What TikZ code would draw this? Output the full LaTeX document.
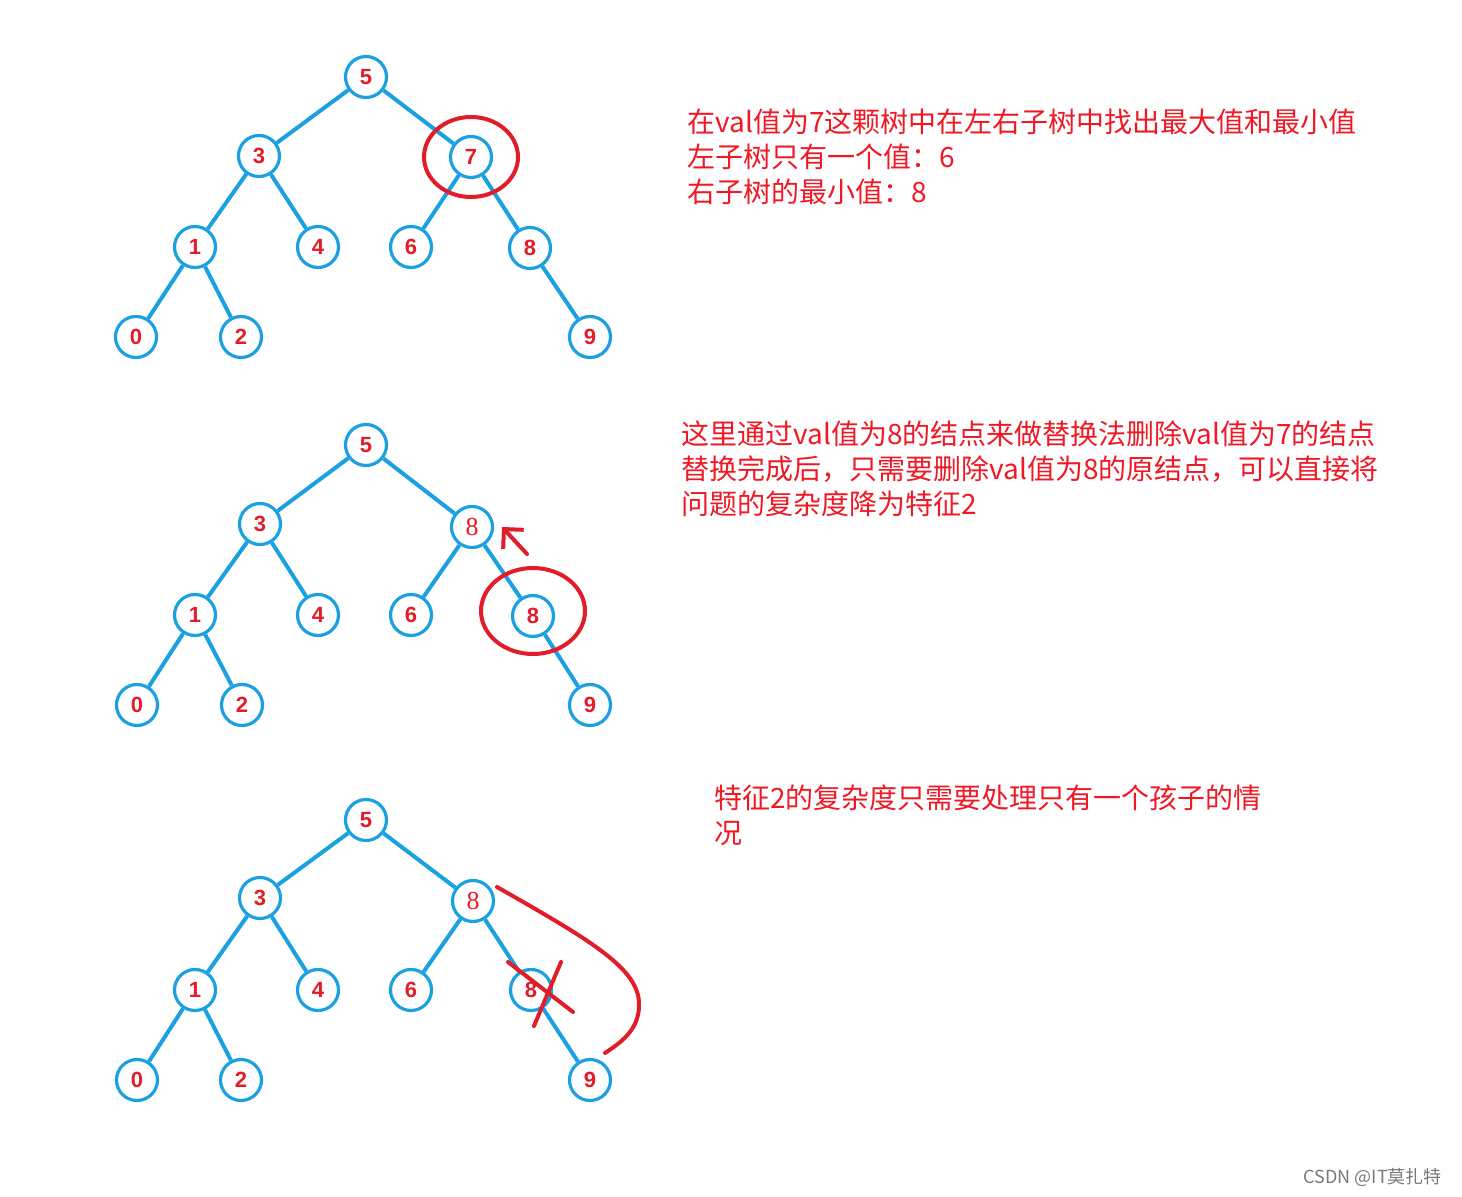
\documentclass[tikz,border=0pt]{standalone}
\usepackage{fontspec}
\usetikzlibrary{arrows.meta}
\newfontfamily\cjk{Noto Sans CJK SC}
\newfontfamily\numfont{Liberation Sans}
\newfontfamily\serifnum{Liberation Serif}
\definecolor{bcol}{RGB}{27,161,226}
\definecolor{rcol}{RGB}{226,28,40}
\definecolor{tcol}{RGB}{240,24,36}
\definecolor{gcol}{RGB}{120,120,120}
\tikzset{vertex/.style={circle,draw=bcol,line width=1.6pt,fill=white,minimum size=20.5pt,inner sep=0pt,text=rcol,font=\numfont\bfseries\fontsize{11}{11}\selectfont}}
\tikzset{edge/.style={bcol,line width=2pt}}
\tikzset{plain/.style={font=\serifnum\mdseries\fontsize{13}{13}\selectfont,text=tcol}}
\tikzset{redline/.style={rcol,line width=2pt,line cap=round}}
\tikzset{note/.style={anchor=west,align=left,inner sep=0pt,text=tcol,font=\cjk\fontsize{14}{17.5}\selectfont}}
\begin{document}
\begin{tikzpicture}[x=0.5pt,y=-0.5pt]
\useasboundingbox (0,0) rectangle (1462,1197);

% first tree
\node [vertex] (a5) at (366,77) {5};
\node [vertex] (a3) at (259,156) {3};
\node [vertex] (a7) at (471,157) {7};
\node [vertex] (a1) at (195,247) {1};
\node [vertex] (a4) at (318,247) {4};
\node [vertex] (a6) at (411,247) {6};
\node [vertex] (a8) at (530,248) {8};
\node [vertex] (a0) at (136,337) {0};
\node [vertex] (a2) at (241,337) {2};
\node [vertex] (a9) at (590,337) {9};

\draw [edge] (a5) -- (a3);
\draw [edge] (a5) -- (a7);
\draw [edge] (a3) -- (a1);
\draw [edge] (a3) -- (a4);
\draw [edge] (a7) -- (a6);
\draw [edge] (a7) -- (a8);
\draw [edge] (a1) -- (a0);
\draw [edge] (a1) -- (a2);
\draw [edge] (a8) -- (a9);

\draw [redline] (a7) ellipse [x radius=23.5pt, y radius=20pt];

% second tree
\node [vertex] (b5) at (366,445) {5};
\node [vertex] (b3) at (260,524) {3};
\node [vertex,plain] (b7) at (472,527) {8};
\node [vertex] (b1) at (195,615) {1};
\node [vertex] (b4) at (318,615) {4};
\node [vertex] (b6) at (411,615) {6};
\node [vertex] (b8) at (533,616) {8};
\node [vertex] (b0) at (137,705) {0};
\node [vertex] (b2) at (242,705) {2};
\node [vertex] (b9) at (590,705) {9};

\draw [edge] (b5) -- (b3);
\draw [edge] (b5) -- (b7);
\draw [edge] (b3) -- (b1);
\draw [edge] (b3) -- (b4);
\draw [edge] (b7) -- (b6);
\draw [edge] (b7) -- (b8);
\draw [edge] (b1) -- (b0);
\draw [edge] (b1) -- (b2);
\draw [edge] (b8) -- (b9);

\draw [redline] (533,611) ellipse [x radius=26pt, y radius=21.5pt];
\coordinate (up1) at (527,554);
\coordinate (up2) at (502,527);
\draw [redline,-{Straight Barb[length=7pt,width=14pt]}] (up1) -- (up2);

% third tree
\node [vertex] (c5) at (366,820) {5};
\node [vertex] (c3) at (260,898) {3};
\node [vertex,plain] (c7) at (473,901) {8};
\node [vertex] (c1) at (195,990) {1};
\node [vertex] (c4) at (318,990) {4};
\node [vertex] (c6) at (411,990) {6};
\node [vertex] (c8) at (531,990) {8};
\node [vertex] (c0) at (137,1080) {0};
\node [vertex] (c2) at (241,1080) {2};
\node [vertex] (c9) at (590,1080) {9};

\draw [edge] (c5) -- (c3);
\draw [edge] (c5) -- (c7);
\draw [edge] (c3) -- (c1);
\draw [edge] (c3) -- (c4);
\draw [edge] (c7) -- (c6);
\draw [edge] (c7) -- (c8);
\draw [edge] (c1) -- (c0);
\draw [edge] (c1) -- (c2);
\draw [edge] (c8) -- (c9);

\coordinate (x1) at (508,962);
\coordinate (x2) at (573,1012);
\coordinate (x3) at (561,962);
\coordinate (x4) at (534,1026);
\draw [redline] (x1) -- (x2);
\draw [redline] (x3) -- (x4);

\coordinate (jump1) at (497,887);
\coordinate (jump2) at (605,1053);
\draw [redline] (jump1) .. controls (590,940) and (638,968) .. (639,1003)
  .. controls (640,1030) and (620,1043) .. (jump2);

% notes
\node [note] (t1) at (687,157) {在val值为7这颗树中在左右子树中找出最大值和最小值\\左子树只有一个值：6\\右子树的最小值：8};
\node [note] (t2) at (681,469) {这里通过val值为8的结点来做替换法删除val值为7的结点\\替换完成后，只需要删除val值为8的原结点，可以直接将\\问题的复杂度降为特征2};
\node [note] (t3) at (714,815) {特征2的复杂度只需要处理只有一个孩子的情\\况};

\node [anchor=east,text=gcol,font=\cjk\fontsize{9}{9}\selectfont] (wm) at (1449,1177) {CSDN @IT莫扎特};
\end{tikzpicture}
\end{document}
